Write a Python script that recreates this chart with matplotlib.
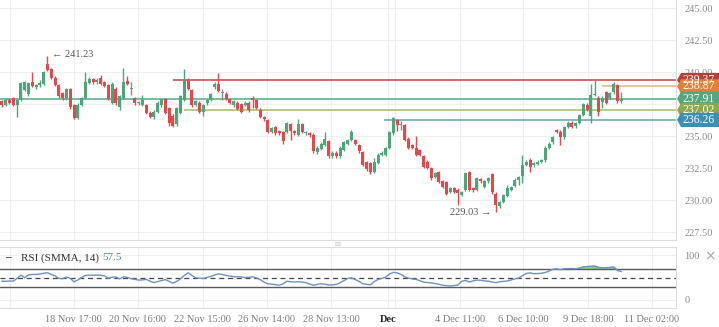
import numpy as np
import matplotlib
matplotlib.use('Agg')
import matplotlib.pyplot as plt
from matplotlib.patches import Polygon
from matplotlib.transforms import blended_transform_factory

plt.rcParams['font.family'] = ['Liberation Serif', 'DejaVu Sans']

# hourly candles, 18 Nov -> 10 Dec
opens = [
    237.70, 237.45, 237.85, 237.95, 237.45, 237.80, 238.60, 238.25, 239.20, 238.85,
    238.95, 239.10, 240.60, 240.20, 239.55, 239.00, 238.35, 237.95, 238.65, 237.40,
    236.40, 237.45, 238.00, 239.15, 239.45, 239.20, 239.50, 239.20, 239.00, 237.60,
    238.70, 237.30, 238.00, 239.30, 238.70, 237.95, 237.55, 237.45, 237.40, 236.80,
    236.50, 236.90, 237.40, 237.90, 237.20, 236.60, 235.90, 236.80, 237.80, 239.40,
    238.60, 237.45, 237.60, 236.90, 237.55, 237.80, 238.80, 239.10, 238.35, 238.30,
    237.90, 237.45, 237.60, 237.50, 237.45, 237.60, 238.00, 237.80, 237.05, 236.50,
    236.25, 235.35, 235.70, 235.40, 235.30, 235.30, 235.90, 235.40, 235.10, 235.90,
    235.20, 235.20, 235.10, 233.75, 234.00, 234.30, 234.60, 233.40, 233.70, 233.40,
    233.90, 234.40, 234.70, 234.70, 234.30, 233.75, 232.95, 232.90, 232.20, 232.90,
    233.50, 233.55, 234.10, 235.20, 236.25, 235.85, 235.85, 234.80, 234.30, 234.05,
    233.90, 233.40, 233.00, 232.50, 231.80, 232.20, 231.50, 231.40, 230.65, 230.90,
    230.80, 230.40, 230.80, 232.15, 230.95, 230.80, 231.65, 231.00, 231.45, 232.00,
    230.50, 229.50, 229.85, 230.30, 230.80, 231.10, 231.60, 231.90, 232.75, 233.10,
    232.70, 232.80, 233.00, 233.10, 234.05, 234.50, 235.45, 235.35, 234.90, 235.70,
    236.05, 235.75, 236.05, 236.65, 237.40, 236.55, 238.20, 238.00, 237.65, 238.40,
    238.00, 238.40, 239.00, 237.70]
closes = [
    237.40, 237.80, 237.60, 237.45, 237.80, 239.15, 239.20, 239.15, 238.90, 238.95,
    239.15, 240.00, 240.15, 239.55, 239.00, 238.10, 237.95, 238.65, 237.25, 236.40,
    237.45, 237.95, 239.20, 239.45, 239.20, 239.40, 239.10, 238.90, 237.90, 239.10,
    237.60, 238.10, 239.20, 239.10, 238.70, 237.55, 237.65, 237.80, 236.80, 236.50,
    236.90, 237.60, 237.90, 236.80, 236.00, 235.80, 237.20, 238.10, 239.30, 238.70,
    237.40, 237.70, 236.90, 237.40, 237.80, 238.25, 239.10, 238.50, 238.35, 237.90,
    237.60, 237.70, 237.10, 236.90, 237.60, 237.05, 237.80, 237.20, 236.50, 236.30,
    235.30, 235.60, 235.25, 235.25, 234.60, 236.00, 235.40, 235.20, 235.90, 235.30,
    235.30, 235.05, 233.80, 234.10, 234.40, 234.80, 233.40, 233.65, 233.40, 234.10,
    234.50, 234.70, 235.30, 234.40, 233.80, 232.75, 232.40, 232.20, 232.95, 233.55,
    233.70, 234.05, 235.30, 236.40, 235.85, 235.85, 234.70, 234.10, 234.05, 233.50,
    233.50, 232.60, 232.50, 231.70, 232.10, 231.40, 231.00, 230.50, 230.95, 230.65,
    230.55, 230.60, 232.10, 230.80, 230.75, 231.70, 231.45, 231.50, 231.70, 230.60,
    229.60, 229.85, 230.40, 230.90, 231.00, 231.60, 231.80, 232.70, 233.00, 232.60,
    232.90, 233.00, 233.10, 234.10, 234.40, 234.90, 235.35, 234.90, 235.70, 236.05,
    235.70, 236.00, 236.65, 237.50, 237.05, 238.20, 238.25, 236.90, 238.00, 237.60,
    238.35, 239.10, 237.70, 237.91]
highs = [
    237.85, 237.95, 238.00, 238.05, 237.90, 239.25, 239.30, 239.25, 240.00, 239.10,
    239.40, 240.10, 241.23, 240.35, 239.65, 239.10, 238.45, 238.75, 238.75, 237.50,
    237.55, 238.05, 240.00, 239.60, 239.55, 239.50, 239.80, 239.30, 239.10, 239.20,
    238.80, 238.20, 240.30, 239.70, 239.20, 238.05, 237.75, 238.20, 237.50, 236.95,
    237.00, 237.70, 238.00, 238.00, 237.30, 236.70, 237.30, 238.20, 240.20, 239.50,
    238.70, 237.80, 237.70, 237.50, 237.90, 238.35, 239.25, 239.90, 238.70, 238.40,
    238.00, 237.80, 237.70, 237.60, 237.75, 237.70, 238.10, 237.90, 237.15, 236.60,
    236.35, 235.70, 235.80, 235.50, 235.40, 236.10, 236.00, 235.50, 236.30, 236.00,
    235.40, 235.30, 235.20, 234.20, 234.50, 235.30, 234.70, 233.80, 233.80, 234.20,
    234.60, 234.80, 235.50, 234.80, 234.40, 233.85, 233.05, 233.00, 233.30, 233.65,
    233.80, 234.15, 235.40, 236.45, 236.35, 236.20, 235.95, 234.90, 234.40, 235.00,
    234.00, 233.50, 233.10, 232.60, 232.20, 232.30, 231.60, 231.50, 231.05, 231.00,
    230.90, 230.70, 232.20, 232.25, 231.05, 231.80, 231.75, 231.60, 231.80, 232.10,
    230.60, 229.95, 230.50, 231.20, 231.10, 231.70, 231.90, 233.50, 233.10, 233.30,
    233.00, 233.10, 233.20, 234.20, 234.50, 235.00, 235.55, 235.45, 235.80, 236.15,
    236.15, 236.10, 236.75, 237.60, 237.55, 239.05, 239.40, 238.10, 238.10, 238.50,
    238.45, 239.25, 239.10, 238.40]
lows = [
    237.30, 237.35, 237.50, 237.35, 236.50, 237.70, 238.50, 238.10, 238.80, 238.70,
    238.85, 239.00, 240.05, 239.45, 238.90, 237.95, 237.85, 237.85, 237.10, 236.30,
    236.30, 237.35, 237.90, 239.05, 239.10, 239.10, 239.00, 238.80, 237.80, 237.50,
    237.45, 237.00, 237.90, 238.95, 238.20, 237.40, 237.45, 237.35, 236.70, 236.40,
    236.30, 236.80, 237.30, 236.70, 235.80, 235.70, 235.80, 236.70, 237.70, 238.60,
    237.30, 237.35, 236.80, 236.60, 237.45, 237.70, 238.70, 238.40, 237.80, 237.80,
    237.50, 237.30, 237.00, 236.80, 237.35, 236.90, 237.20, 237.10, 236.40, 236.20,
    235.20, 235.25, 235.10, 235.10, 234.40, 235.20, 234.70, 235.10, 235.00, 235.20,
    235.10, 234.95, 233.70, 233.60, 233.90, 234.20, 233.30, 233.30, 233.30, 233.30,
    233.80, 234.30, 234.60, 234.30, 233.70, 232.65, 232.30, 232.00, 232.10, 232.80,
    233.40, 233.45, 234.00, 235.10, 235.40, 235.50, 234.60, 234.00, 233.95, 233.40,
    233.40, 232.50, 232.40, 231.60, 231.70, 231.30, 230.90, 230.40, 230.55, 230.55,
    229.60, 230.30, 230.70, 230.70, 230.65, 230.70, 231.35, 230.90, 231.35, 230.50,
    229.03, 229.35, 229.75, 230.20, 230.70, 231.00, 231.20, 231.30, 232.65, 232.20,
    232.60, 232.70, 232.90, 233.00, 233.95, 234.40, 235.25, 234.30, 234.80, 235.60,
    235.60, 235.65, 235.95, 236.55, 236.95, 236.00, 238.10, 236.60, 237.20, 237.50,
    237.90, 238.30, 237.60, 237.60]
rsi = [
    42, 42, 42.5, 42.5, 48.5, 55.8, 50, 56.2, 57.3, 57.3,
    58.4, 60, 61.1, 57.3, 54, 48.4, 47.8, 51.8, 48.4, 40.7,
    45.1, 50.7, 55.1, 55.8, 55.8, 55.8, 55.6, 54.2, 48.9, 51.1,
    51.8, 47.3, 52.2, 50.7, 47.8, 46.2, 44.7, 45.1, 46.2, 42.2,
    39.1, 41.3, 43.3, 45.8, 41.8, 37.8, 41.8, 47.3, 55.1, 61.1,
    55.1, 49.8, 48.9, 48.4, 50.7, 52.9, 56.2, 58.7, 57.3, 55.1,
    53.6, 52.2, 52.2, 51.8, 50.4, 50.9, 52.2, 49.6, 45.6, 40,
    36.2, 35.6, 34.4, 33.1, 36.2, 42.2, 40.9, 40.4, 40.9, 40.4,
    39.1, 35.8, 32.9, 35.1, 36.4, 35.6, 33.6, 33.8, 35.1, 38.7,
    43.3, 48.4, 49.8, 45.8, 41.8, 36.2, 35.1, 34.2, 41.3, 46.2,
    48.4, 51.3, 58.4, 62, 60.9, 57.6, 52.4, 48.9, 47.3, 46.2,
    43.3, 40, 39.3, 38.4, 36.9, 35.3, 33.1, 32.2, 31.3, 32.4,
    33.6, 41.8, 44, 40.2, 42.9, 44.7, 44.4, 42.7, 42.4, 40.4,
    38.9, 40.9, 41.8, 42.7, 45.1, 47.1, 49.3, 54.7, 59.6, 60.9,
    58.9, 59.3, 60, 61.8, 65.1, 68.9, 70, 68, 70.2, 70.7,
    70.7, 70.2, 71.8, 74.4, 75.1, 76, 76.2, 73.3, 72.2, 72.2,
    73.3, 74.4, 66.2, 64]

tick_pos = [2.1, 18.9, 35.8, 52.9, 69.7, 86.6, 101.6, 120.5, 137.1, 154.2, 171.1]
tick_labels = ['', '18 Nov 17:00', '20 Nov 16:00', '22 Nov 15:00', '26 Nov 14:00',
               '28 Nov 13:00', 'Dec', '4 Dec 11:00', '6 Dec 10:00', '9 Dec 18:00',
               '11 Dec 02:00']
price_ticks = [227.5, 230, 232.5, 235, 237.5, 240, 242.5, 245]

# horizontal levels (drawn in this order, last on top)
level_values = [239.37, 238.87, 237.91, 237.02, 236.26]
level_starts = [45, 158, -1, 48, 100.5]
level_line_colors = ['#c9504c', '#f3b48a', '#5cb38a', '#a9c46e', '#6fa8cb']
level_tag_colors = ['#b4403d', '#e2823a', '#55a57f', '#8ea94b', '#3b8fb3']

GREEN = '#4fa57a'
RED = '#e3484d'

fig = plt.figure(figsize=(7.19, 3.27), dpi=100)
ax = fig.add_axes([0, 1 - 240 / 327, 676 / 719, 240 / 327])
ax2 = fig.add_axes([0, 1 - 308 / 327, 676 / 719, 61 / 327])

x = np.arange(len(closes))
o = np.array(opens)
c = np.array(closes)
h = np.array(highs)
l = np.array(lows)
cols = np.where(c > o, GREEN, np.where(c < o, RED, '#8a8a8a'))
xmax = 177.4

ax.vlines(x, l, h, colors=cols, lw=1, zorder=3)
ax.bar(x, np.maximum(np.abs(c - o), 0.05), bottom=np.minimum(o, c), width=0.75,
       color=cols, zorder=4, linewidth=0)

for v, s, lc in zip(level_values, level_starts, level_line_colors):
    ax.hlines(v, s, xmax, colors=lc, lw=1.2, zorder=2)

ax.set_xlim(-0.5, xmax)
ax.set_ylim(226.875, 245.625)
ax.set_yticks(price_ticks)
ax.set_yticklabels(['%.2f' % t for t in price_ticks])
ax.yaxis.tick_right()
ax.tick_params(axis='y', length=0, pad=6, labelsize=7.5, labelcolor='#8a8a8a')
ax.set_xticks(tick_pos)
ax.tick_params(axis='x', length=0, labelbottom=False)
ax.grid(True, color='#efefef', lw=0.8, zorder=0)
for vx in [103.4]:
    ax.axvline(vx, color='#efefef', lw=0.8, zorder=0)
    ax2.axvline(vx, color='#efefef', lw=0.8, zorder=0)
for sp in ['top', 'left']:
    ax.spines[sp].set_visible(False)
for sp in ['right', 'bottom']:
    ax.spines[sp].set_color('#dcdcdc')

# price tags on the right
tr = blended_transform_factory(ax.transAxes, ax.transData)
hh = 0.56
for v, tc in zip(level_values, level_tag_colors):
    poly = Polygon([(1.0015, v), (1.0075, v + hh), (1.07, v + hh), (1.07, v - hh),
                    (1.0075, v - hh)], closed=True, transform=tr, clip_on=False,
                   facecolor=tc, edgecolor='none', zorder=10)
    ax.add_patch(poly)
    ax.text(1.034, v, '%.2f' % v, transform=tr, ha='center', va='center',
            fontsize=8.5, color='white', clip_on=False, zorder=11)

ax.annotate('\u2190 241.23', xy=(12, 241.23), xytext=(3, 1), textcoords='offset points',
            ha='left', va='center', fontsize=7.5, color='#555555')
ax.annotate('229.03 \u2192', xy=(130, 229.03), xytext=(-3, 0), textcoords='offset points',
            ha='right', va='center', fontsize=7.5, color='#555555')

# RSI pane
ax2.plot(x, rsi, color='#6e91c9', lw=1, zorder=3)
r = np.array(rsi)
ax2.fill_between(x, 70, r, where=r > 70, interpolate=True, color='#7dd87d', zorder=2)
ax2.axhline(70, color='#5a5a5a', lw=1, zorder=2)
ax2.axhline(30, color='#5a5a5a', lw=1, zorder=2)
ax2.axhline(50, color='#444444', lw=0.9, ls=(0, (4, 3)), zorder=2)
ax2.set_xlim(-0.5, xmax)
ax2.set_ylim(-18, 119)
ax2.set_yticks([0, 100])
ax2.yaxis.tick_right()
ax2.tick_params(axis='y', length=0, pad=6, labelsize=7.5, labelcolor='#8a8a8a')
ax2.set_xticks(tick_pos)
ax2.set_xticklabels(tick_labels)
ax2.tick_params(axis='x', length=0, pad=5, labelsize=7.5, labelcolor='#7a7a7a')
for lab in ax2.get_xticklabels():
    if lab.get_text() == 'Dec':
        lab.set_color('#222222')
        lab.set_fontweight('bold')
ax2.grid(True, color='#efefef', lw=0.8, zorder=0)
ax2.spines['left'].set_visible(False)
for sp in ['right', 'bottom', 'top']:
    ax2.spines[sp].set_color('#dcdcdc')

fig.text(5 / 719, 1 - 258 / 327, '\u2013', fontsize=8, color='#222222', va='center',
         fontweight='bold')
fig.text(21 / 719, 1 - 258 / 327, 'RSI (SMMA, 14)', fontsize=8, color='#333333', va='center')
fig.text(102 / 719, 1 - 258 / 327, '57.5', fontsize=8, color='#4a78b8', va='center')
fig.text(338 / 719, 1 - 244 / 327, '\u2261', fontsize=7, color='#cccccc', ha='center',
         va='center', family=['DejaVu Sans'])
fig.text(710 / 719, 1 - 256 / 327, '\u00d7', fontsize=10, color='#a8a8a8', ha='center',
         va='center', family=['DejaVu Sans'])

fig.savefig('out.png', dpi=100)
